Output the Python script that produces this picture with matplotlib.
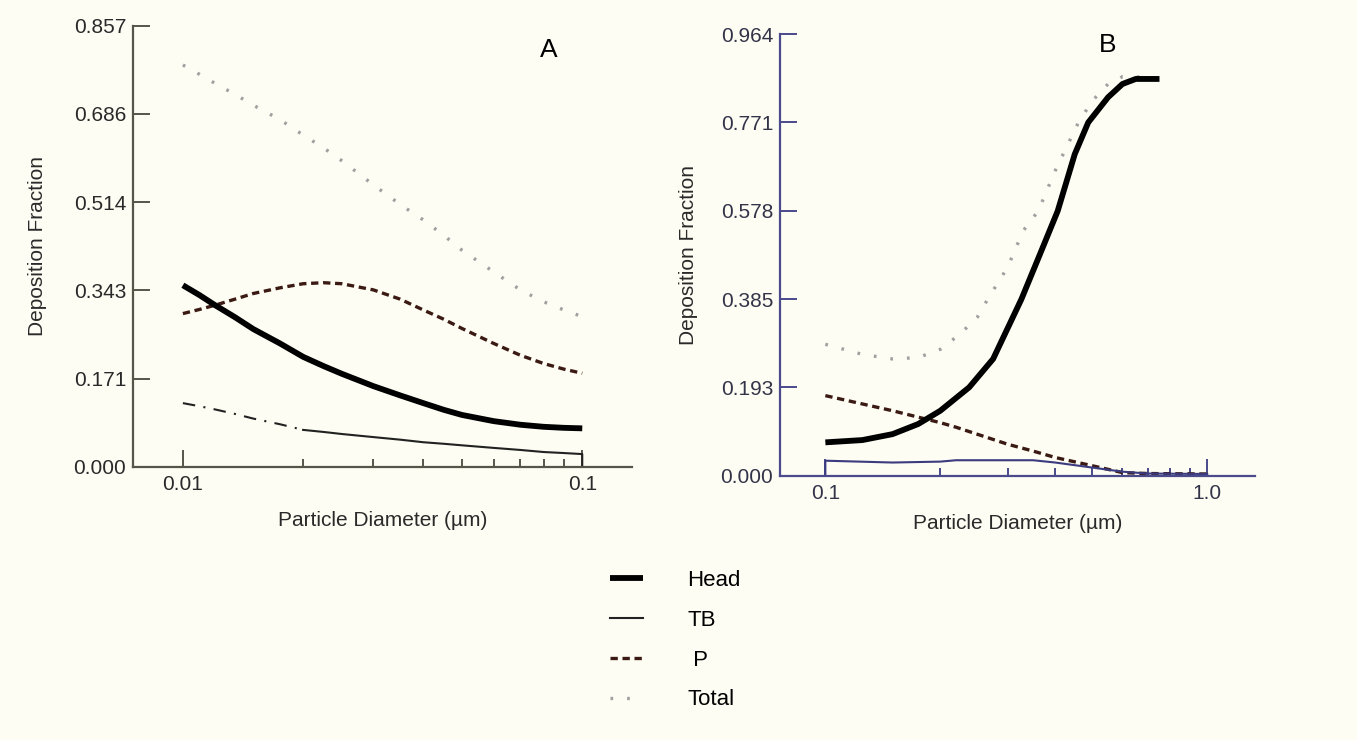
import matplotlib.pyplot as plt
from matplotlib.ticker import FixedLocator, NullFormatter

# ---- panel A: 0.01 - 0.1 um ----
dia_a = [0.01, 0.011, 0.012, 0.0135, 0.015, 0.0175, 0.02, 0.0225, 0.025, 0.03,
         0.035, 0.04, 0.045, 0.05, 0.06, 0.07, 0.08, 0.09, 0.1]
head_a = [0.353, 0.334, 0.315, 0.291, 0.268, 0.240, 0.214, 0.196, 0.181, 0.157,
          0.139, 0.124, 0.111, 0.101, 0.089, 0.082, 0.078, 0.076, 0.075]
p_a = [0.298, 0.306, 0.314, 0.326, 0.337, 0.348, 0.356, 0.358, 0.356, 0.344,
       0.326, 0.305, 0.287, 0.269, 0.240, 0.217, 0.201, 0.190, 0.182]
total_a = [0.781, 0.763, 0.746, 0.724, 0.703, 0.675, 0.645, 0.620, 0.595, 0.548,
           0.510, 0.480, 0.450, 0.421, 0.379, 0.344, 0.321, 0.305, 0.292]
tb_a = [0.124, 0.118, 0.112, 0.103, 0.094, 0.083, 0.072, 0.068, 0.064, 0.058,
        0.053, 0.048, 0.045, 0.042, 0.037, 0.033, 0.029, 0.027, 0.025]

# ---- panel B: 0.1 - 1.0 um ----
dia_b_head = [0.1, 0.125, 0.15, 0.175, 0.2, 0.238, 0.275, 0.326, 0.365, 0.406, 0.45, 0.488, 0.55, 0.6, 0.65, 0.75]
head_b = [0.073, 0.078, 0.091, 0.113, 0.142, 0.193, 0.255, 0.385, 0.484, 0.578, 0.702, 0.771, 0.826, 0.855, 0.866, 0.866]
dia_b_total = [0.1, 0.125, 0.15, 0.175, 0.2, 0.225, 0.25, 0.266, 0.3, 0.33, 0.361, 0.4, 0.46, 0.5, 0.55, 0.6, 0.65, 0.75]
total_b = [0.287, 0.265, 0.255, 0.258, 0.276, 0.309, 0.346, 0.385, 0.455, 0.535, 0.578, 0.666, 0.771, 0.818, 0.855, 0.871, 0.871, 0.866]
dia_b = [0.1, 0.15, 0.2, 0.22, 0.3, 0.35, 0.4, 0.5, 0.6, 0.7, 1.0]
p_b = [0.175, 0.142, 0.116, 0.106, 0.069, 0.054, 0.040, 0.022, 0.007, 0.005, 0.004]
tb_b = [0.033, 0.029, 0.031, 0.034, 0.034, 0.034, 0.029, 0.018, 0.009, 0.005, 0.004]

yticks_a = [0.000, 0.171, 0.343, 0.514, 0.686, 0.857]
yticks_b = [0.000, 0.193, 0.385, 0.578, 0.771, 0.964]
minor_a = [0.02, 0.03, 0.04, 0.05, 0.06, 0.07, 0.08, 0.09]
minor_b = [0.2, 0.3, 0.4, 0.5, 0.6, 0.7, 0.8, 0.9]

bg = "#fdfdf3"
plt.rcParams["font.family"] = ["Liberation Sans", "DejaVu Sans"]

fig = plt.figure(figsize=(13.57, 7.40), dpi=100, facecolor=bg)
ax_a = fig.add_axes([0.098, 0.369, 0.368, 0.596])
ax_b = fig.add_axes([0.575, 0.357, 0.350, 0.597])

head_kw = dict(color="black", lw=4.2, solid_capstyle="butt", solid_joinstyle="round")
p_kw = dict(color="#3a1a12", lw=2.4, ls=(0, (2.2, 1.4)))
total_kw = dict(color="#a0a0a0", lw=2.4, ls=(0, (0.8, 4.2)))

# panel A  (TB is drawn dash-dot up to 0.02, solid after that)
ax_a.plot(dia_a, total_a, **total_kw)
ax_a.plot(dia_a, p_a, **p_kw)
ax_a.plot(dia_a, head_a, **head_kw)
ax_a.plot(dia_a[:7], tb_a[:7], color="#222222", lw=1.5, ls=(0, (6, 4, 1, 4)))
ax_a.plot(dia_a[6:] + [dia_a[-1]], tb_a[6:] + [0.0], color="#222222", lw=1.5)

# panel B
ax_b.plot(dia_b_total, total_b, **total_kw)
ax_b.plot(dia_b, p_b, **p_kw)
ax_b.plot(dia_b_head, head_b, **head_kw)
ax_b.plot([dia_b[0]] + dia_b, [0.0] + tb_b, color="#3b3b80", lw=1.5)

panels = [
    (ax_a, yticks_a, [0.01, 0.1], ["0.01", "0.1"], minor_a, (0.0075, 0.1335),
     "#55554a", "#2a2a2a", "A", (0.832, 0.946), 12, 19),
    (ax_b, yticks_b, [0.1, 1.0], ["0.1", "1.0"], minor_b, (0.0762, 1.336),
     "#4a4a8c", "#33334a", "B", (0.69, 0.975), 8, 16),
]
for ax, yt, xt, xtl, xminor, xlim, spine_c, text_c, tag, tag_xy, xlpad, ylpad in panels:
    ax.set_facecolor(bg)
    ax.set_xscale("log")
    ax.set_xlim(*xlim)
    ax.set_ylim(0, yt[-1])
    ax.set_yticks(yt)
    ax.set_yticklabels([f"{v:.3f}" for v in yt])
    ax.set_xticks(xt)
    ax.set_xticklabels(xtl)
    ax.xaxis.set_minor_locator(FixedLocator(xminor))
    ax.xaxis.set_minor_formatter(NullFormatter())
    for s in ["top", "right"]:
        ax.spines[s].set_visible(False)
    for s in ["left", "bottom"]:
        ax.spines[s].set_color(spine_c)
        ax.spines[s].set_linewidth(1.6)
    ax.tick_params(axis="y", direction="in", length=12, width=1.4, color=spine_c,
                   labelsize=15, labelcolor=text_c, pad=5)
    ax.tick_params(axis="x", which="major", direction="in", length=12, width=1.4,
                   color=spine_c, labelsize=15, labelcolor=text_c, pad=6)
    ax.tick_params(axis="x", which="minor", direction="in", length=6, width=1.4,
                   color=spine_c)
    ax.set_xlabel("Particle Diameter (µm)", fontsize=15, color="#2a2a2a", labelpad=xlpad)
    ax.set_ylabel("Deposition Fraction", fontsize=15, color="#2a2a2a", labelpad=ylpad)
    ax.text(*tag_xy, tag, transform=ax.transAxes, fontsize=19, ha="center",
            va="center", color="black")

# shared legend below the panels
handles = [
    plt.Line2D([], [], **head_kw),
    plt.Line2D([], [], color="#222222", lw=1.5),
    plt.Line2D([], [], **p_kw),
    plt.Line2D([], [], **total_kw),
]
fig.legend(handles, ["Head", "TB", " P", "Total"], loc="upper left",
           bbox_to_anchor=(0.441, 0.245), frameon=False, fontsize=16,
           handlelength=1.5, handletextpad=2.0, labelspacing=0.85, borderpad=0)

fig.savefig("out.png", dpi=100, facecolor=bg)
